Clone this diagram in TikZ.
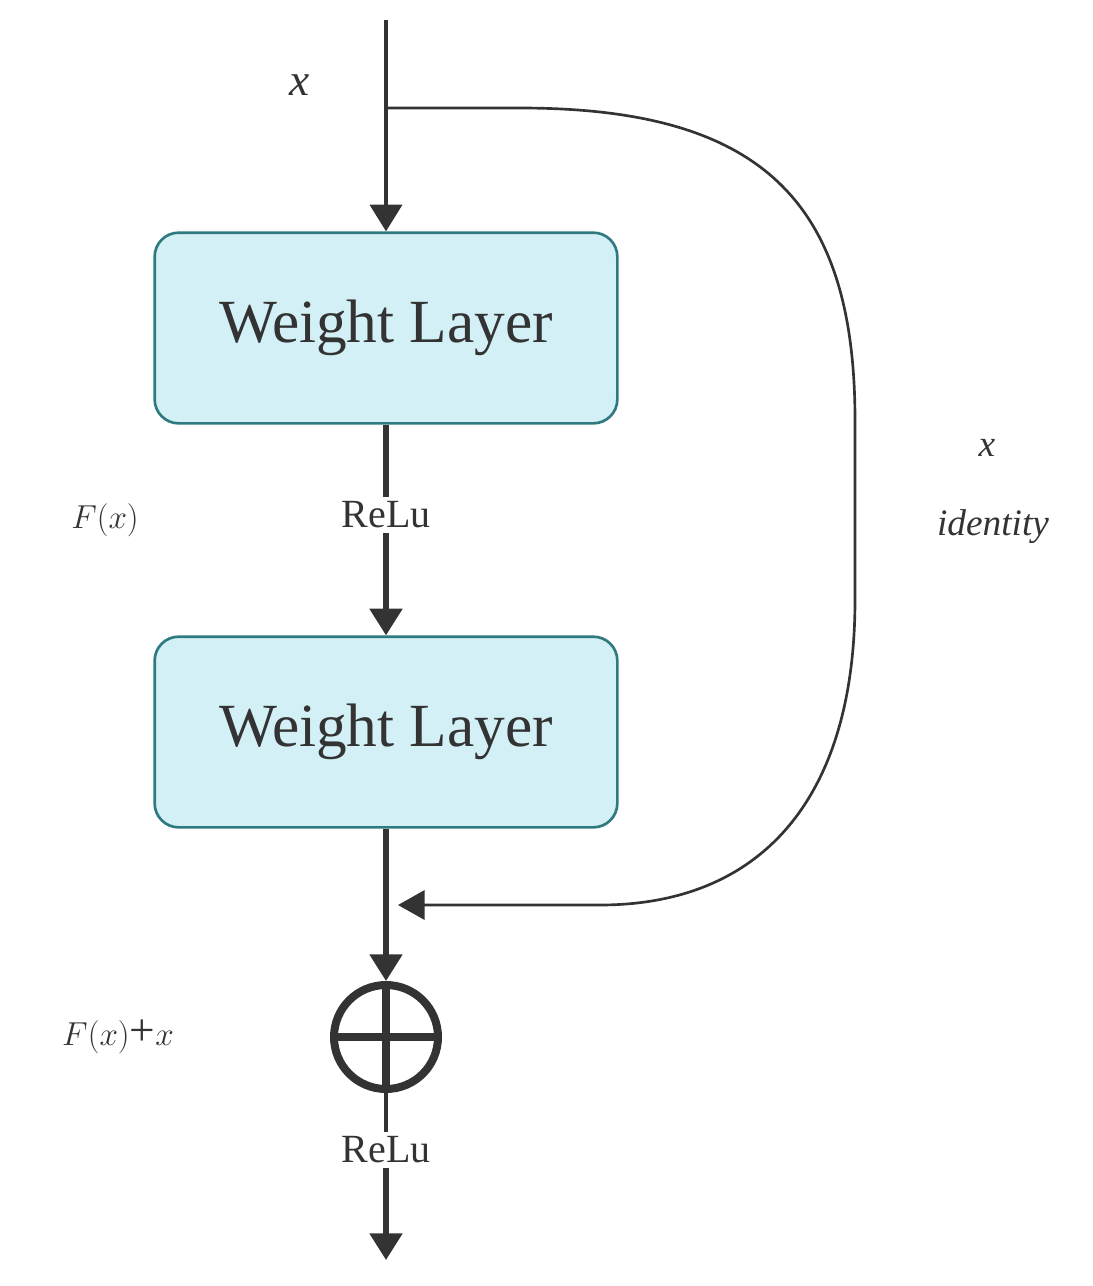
\documentclass[tikz,border=0pt]{standalone}
\usepackage{fontspec}
\setmainfont{Liberation Serif}
\usetikzlibrary{arrows.meta}
\definecolor{boxfill}{HTML}{D2F0F5}
\definecolor{boxline}{HTML}{2E7A80}
\definecolor{ink}{HTML}{333333}
\begin{document}
\begin{tikzpicture}[x=0.75pt,y=-0.75pt,
  wl/.style={draw=boxline,line width=2pt,fill=boxfill,rounded corners=18pt,minimum width=347pt,minimum height=143pt,font=\fontsize{46}{50}\selectfont,text=ink},
  flow/.style={draw=ink,line width=4pt},
  arr/.style={-{Triangle[length=20pt,width=24pt]}},
  lab/.style={font=\fontsize{30}{34}\selectfont,text=ink}]
\useasboundingbox (0,0) rectangle (1093,1286);
\coordinate (top) at (386,20);
\node[wl] (w1) at (386,328) {Weight Layer};
\node[wl] (w2) at (386,732) {Weight Layer};
\node[circle,draw=ink,line width=6pt,minimum size=78pt,inner sep=0pt] (add) at (386,1037) {};
\draw[ink,line width=6pt] (add.north) -- (add.south) (add.west) -- (add.east);
\node[lab] (r1) at (386,515) {ReLu};
\node[lab] (r2) at (386,1150) {ReLu};
\coordinate (out) at (386,1260);
\coordinate (sp) at (386,108);
\coordinate (join) at (398,905);
\draw[flow,line width=3pt,arr] (top) -- (w1.north);
\draw[flow] (w1.south) -- (r1.north);
\draw[flow,arr] (r1.south) -- (w2.north);
\draw[flow,arr] (w2.south) -- (add.north);
\draw[flow,line width=3pt] (add.south) -- (r2.north);
\draw[flow,arr] (r2.south) -- (out);
\draw[ink,line width=2pt,-{Triangle[length=20pt,width=22pt]}] (sp) -- (520,108) .. controls (760,108) and (855,200) .. (855,420) -- (855,600) .. controls (855,800) and (760,905) .. (600,905) -- (join);
\node[lab,font=\fontsize{34}{38}\selectfont\itshape] (lx) at (300,85) {x};
\node[lab,font=\fontsize{36}{40}\selectfont] (lf) at (105,520) {$F(x)$};
\node[lab,font=\fontsize{34}{38}\selectfont] (lfx) at (118,1037) {$F(x)$+$x$};
\node[lab,font=\fontsize{28}{32}\selectfont\itshape] (ix) at (987,448) {x};
\node[lab,font=\fontsize{28}{32}\selectfont\itshape] (id) at (993,527) {identity};
\end{tikzpicture}
\end{document}
